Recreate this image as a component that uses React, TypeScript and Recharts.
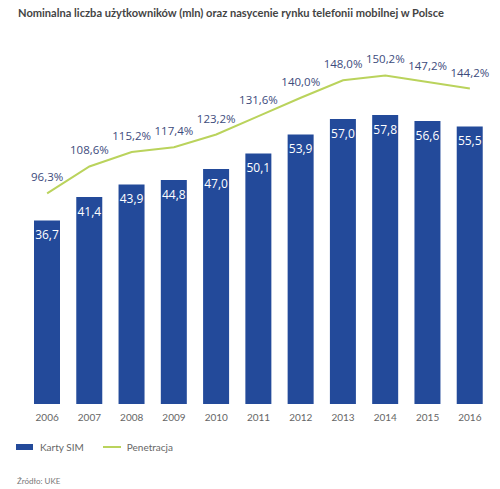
import { ComposedChart, Bar, Line, XAxis, YAxis, LabelList } from 'recharts';

const years = ['2006', '2007', '2008', '2009', '2010', '2011', '2012', '2013', '2014', '2015', '2016'];
const simCards = [36.7, 41.4, 43.9, 44.8, 47.0, 50.1, 53.9, 57.0, 57.8, 56.6, 55.5];
const penetration = [96.3, 108.6, 115.2, 117.4, 123.2, 131.6, 140.0, 148.0, 150.2, 147.2, 144.2];

const data = years.map((year, i) => ({ year, sim: simCards[i], pen: penetration[i] }));

const BLUE = '#234a9a';
const GREEN = '#bad35c';
const LABEL = '#3d4b7c';
const GRAY = '#666';

const fmt = (v: number) => v.toFixed(1).replace('.', ',');

export default function App() {
  return (
    <div style={{ position: 'relative', width: 500, height: 489, margin: '-8px 0 0 -8px', background: '#fff', fontFamily: 'Lato, sans-serif' }}>
      <div style={{ position: 'absolute', left: 18, top: 6, fontSize: 11.1, fontWeight: 700, color: '#444', whiteSpace: 'nowrap' }}>
        Nominalna liczba użytkowników (mln) oraz nasycenie rynku telefonii mobilnej w Polsce
      </div>
      <div style={{ position: 'absolute', left: 0, top: 0 }}>
        <ComposedChart width={500} height={430} data={data} margin={{ top: 54, right: 9, left: 26, bottom: 0 }}>
          <XAxis
            dataKey="year"
            axisLine={false}
            tickLine={false}
            height={26}
            tickMargin={4}
            tick={{ fill: GRAY, fontSize: 10, fontFamily: 'Lato, sans-serif' }}
          />
          <YAxis yAxisId="sim" hide domain={[0, 70]} />
          <YAxis yAxisId="pen" hide orientation="right" domain={[0, 160]} />
          <Bar yAxisId="sim" dataKey="sim" fill={BLUE} barSize={26} isAnimationActive={false}>
            <LabelList
              dataKey="sim"
              position="insideTop"
              offset={10}
              formatter={(v: any) => fmt(Number(v))}
              style={{ fill: '#fff', fontSize: 12, fontFamily: '"Open Sans", sans-serif' }}
            />
          </Bar>
          <Line
            yAxisId="pen"
            dataKey="pen"
            stroke={GREEN}
            strokeWidth={2}
            dot={false}
            isAnimationActive={false}
          >
            <LabelList
              dataKey="pen"
              position="top"
              offset={12}
              formatter={(v: any) => fmt(Number(v)) + '%'}
              style={{ fill: LABEL, fontSize: 11.5, fontFamily: '"Open Sans", sans-serif' }}
            />
          </Line>
        </ComposedChart>
      </div>
      <div style={{ position: 'absolute', left: 16, top: 441, display: 'flex', alignItems: 'center', fontSize: 10, color: GRAY }}>
        <span style={{ display: 'inline-block', width: 17, height: 6, background: BLUE, marginRight: 7 }} />
        <span>Karty SIM</span>
        <span style={{ display: 'inline-block', width: 18, height: 2, background: GREEN, marginLeft: 19, marginRight: 6 }} />
        <span>Penetracja</span>
      </div>
      <div style={{ position: 'absolute', left: 17, top: 476, fontSize: 8, color: '#777' }}>Źródło: UKE</div>
    </div>
  );
}
